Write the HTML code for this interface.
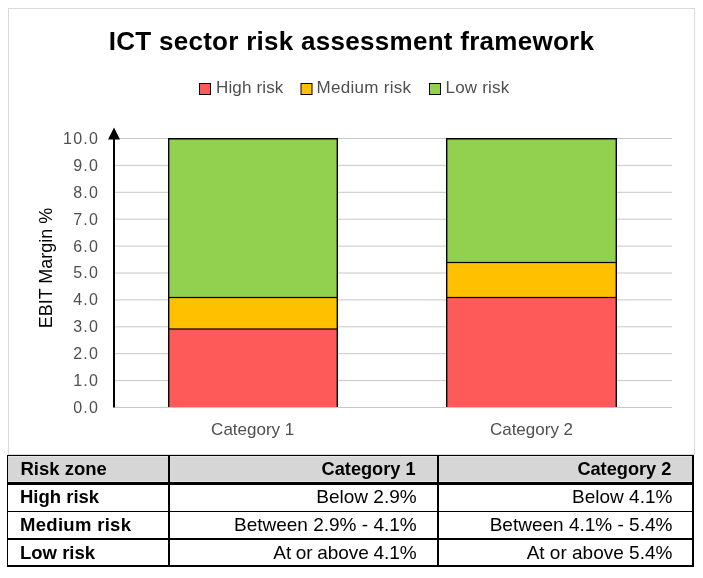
<!DOCTYPE html>
<html><head><meta charset="utf-8">
<style>
*{margin:0;padding:0;box-sizing:border-box}
html,body{width:703px;height:578px;overflow:hidden;background:#fff}
body{position:relative;font-family:"Liberation Sans",Arial,sans-serif}
.frame{position:absolute;left:8px;top:8px;width:687px;height:447px;border:1px solid #dadada}
svg{position:absolute;left:0;top:0}
.tbl{position:absolute;left:7px;top:455px;width:687px;height:112px}
.tbl div{position:absolute}
.hl{background:#000}
.hdr{background:#d6d6d6;box-shadow:inset 0 1px 0 #e6e6e6, inset 0 -1px 0 #e6e6e6}
</style></head><body>
<div class="frame"></div>
<svg width="703" height="578" viewBox="0 0 703 578">
  <text x="351.5" y="49.5" text-anchor="middle" font-family="Liberation Sans" font-weight="bold" font-size="26" letter-spacing="0.28" fill="#000">ICT sector risk assessment framework</text>
  <rect x="199.5" y="83.5" width="11" height="11" fill="#ff5a5a" stroke="#000" stroke-width="1"/>
  <text x="216" y="93" font-family="Liberation Sans" font-size="17" letter-spacing="0.15" fill="#4f4f4f">High risk</text>
  <rect x="301" y="83.5" width="11" height="11" fill="#ffc000" stroke="#000" stroke-width="1"/>
  <text x="316.5" y="93" font-family="Liberation Sans" font-size="17" letter-spacing="0.3" fill="#4f4f4f">Medium risk</text>
  <rect x="429.5" y="83.5" width="11" height="11" fill="#92d050" stroke="#000" stroke-width="1"/>
  <text x="445.5" y="93" font-family="Liberation Sans" font-size="17" letter-spacing="0.2" fill="#4f4f4f">Low risk</text>
  <g stroke="#c8c8c8" stroke-width="1">
    <line x1="115" x2="672" y1="407.50" y2="407.50"/>
    <line x1="115" x2="672" y1="380.60" y2="380.60"/>
    <line x1="115" x2="672" y1="353.70" y2="353.70"/>
    <line x1="115" x2="672" y1="326.80" y2="326.80"/>
    <line x1="115" x2="672" y1="299.90" y2="299.90"/>
    <line x1="115" x2="672" y1="273.00" y2="273.00"/>
    <line x1="115" x2="672" y1="246.10" y2="246.10"/>
    <line x1="115" x2="672" y1="219.20" y2="219.20"/>
    <line x1="115" x2="672" y1="192.30" y2="192.30"/>
    <line x1="115" x2="672" y1="165.40" y2="165.40"/>
    <line x1="115" x2="672" y1="138.50" y2="138.50"/>
  </g>
  <g font-family="Liberation Sans" font-size="16" letter-spacing="1.2" fill="#4f4f4f" text-anchor="end">
    <text x="99.0" y="143.90">10.0</text>
    <text x="99.0" y="170.80">9.0</text>
    <text x="99.0" y="197.70">8.0</text>
    <text x="99.0" y="224.60">7.0</text>
    <text x="99.0" y="251.50">6.0</text>
    <text x="99.0" y="278.40">5.0</text>
    <text x="99.0" y="305.30">4.0</text>
    <text x="99.0" y="332.20">3.0</text>
    <text x="99.0" y="359.10">2.0</text>
    <text x="99.0" y="386.00">1.0</text>
    <text x="99.0" y="412.90">0.0</text>
  </g>
  <g>
    <rect x="168" y="138" width="170" height="269.00" fill="#92d050"/>
    <rect x="168" y="297.5" width="170" height="31.50" fill="#ffc000"/>
    <rect x="168" y="329.0" width="170" height="78.00" fill="#ff5a5a"/>
    <rect x="446" y="138" width="171" height="269.00" fill="#92d050"/>
    <rect x="446" y="262.5" width="171" height="35.00" fill="#ffc000"/>
    <rect x="446" y="297.5" width="171" height="109.50" fill="#ff5a5a"/>
  </g>
  <g fill="#000">
    <rect x="168" y="138.0" width="170" height="1.5"/>
    <rect x="168" y="138.0" width="1.4" height="269.0"/>
    <rect x="336.6" y="138.0" width="1.4" height="269.0"/>
    <rect x="168" y="296.90" width="170" height="1.2"/>
    <rect x="168" y="328.40" width="170" height="1.2"/>
    <rect x="446" y="138.0" width="171" height="1.5"/>
    <rect x="446" y="138.0" width="1.4" height="269.0"/>
    <rect x="615.6" y="138.0" width="1.4" height="269.0"/>
    <rect x="446" y="261.90" width="171" height="1.2"/>
    <rect x="446" y="296.90" width="171" height="1.2"/>
  </g>
  <line x1="114" x2="114" y1="137" y2="407.5" stroke="#000" stroke-width="2"/>
  <polygon points="114,127.5 108,139.5 120,139.5" fill="#000"/>
  <g font-family="Liberation Sans" font-size="17" fill="#4f4f4f" text-anchor="middle">
    <text x="252.7" y="435">Category 1</text>
    <text x="531.5" y="435">Category 2</text>
  </g>
  <text transform="translate(52,268) rotate(-90)" text-anchor="middle" font-family="Liberation Sans" font-size="18" fill="#000">EBIT Margin %</text>
</svg>
<div class="tbl">
  <div class="hdr" style="left:0;top:1px;width:687px;height:26px"></div>
  <div class="hl" style="left:0;top:0;width:687px;height:1.2px"></div>
  <div class="hl" style="left:0;top:27px;width:687px;height:2.5px"></div>
  <div class="hl" style="left:0;top:56px;width:687px;height:1.4px"></div>
  <div class="hl" style="left:0;top:83.3px;width:687px;height:1.4px"></div>
  <div class="hl" style="left:0;top:110px;width:687px;height:2px"></div>
  <div class="hl" style="left:0;top:0;width:1.2px;height:112px"></div>
  <div class="hl" style="left:161.2px;top:0;width:1.5px;height:112px"></div>
  <div class="hl" style="left:430px;top:0;width:1.5px;height:112px"></div>
  <div class="hl" style="left:685px;top:0;width:1.5px;height:112px"></div>
</div>
<svg width="703" height="578" viewBox="0 0 703 578">
  <g font-family="Liberation Sans" font-size="18.5" font-weight="bold" fill="#000">
    <text x="20.5" y="474.9">Risk zone</text>
    <text x="415.6" y="474.9" text-anchor="end" font-size="18.2">Category 1</text>
    <text x="671.4" y="474.9" text-anchor="end" font-size="18.2">Category 2</text>
    <text x="20" y="503.4">High risk</text>
    <text x="20" y="531" letter-spacing="0.3">Medium risk</text>
    <text x="20" y="558.8">Low risk</text>
  </g>
  <g font-family="Liberation Sans" font-size="19" fill="#000" text-anchor="end">
    <text x="416.7" y="503.4">Below 2.9%</text>
    <text x="416.7" y="531">Between 2.9% - 4.1%</text>
    <text x="416.7" y="558.8" word-spacing="-0.8">At or above 4.1%</text>
    <text x="672.4" y="503.4">Below 4.1%</text>
    <text x="672.4" y="531">Between 4.1% - 5.4%</text>
    <text x="672.4" y="558.8">At or above 5.4%</text>
  </g>
</svg>
</body></html>
